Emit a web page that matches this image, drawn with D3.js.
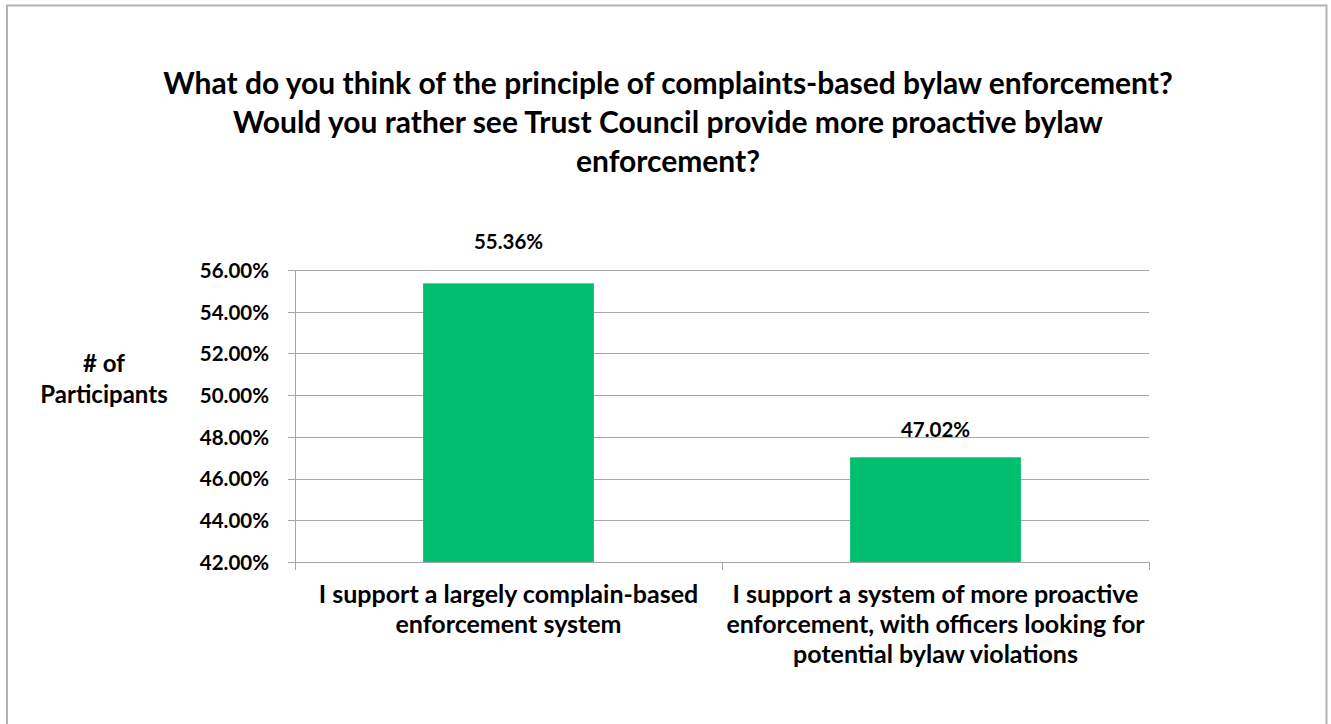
<!DOCTYPE html>
<html>
<head>
<meta charset="utf-8">
<script src="https://cdn.jsdelivr.net/npm/d3@7"></script>
<style>
  body { margin: 0; background: #fff; }
  text { font-family: Lato, "Open Sans", sans-serif; font-weight: 700; fill: #000; }
</style>
</head>
<body>
<script>
// chart data
const titleLines = [
  "What do you think of the principle of complaints-based bylaw enforcement?",
  "Would you rather see Trust Council provide more proactive bylaw",
  "enforcement?"
];
const yLabelLines = ["# of", "Participants"];
const categories = [
  "I support a largely complain-based enforcement system",
  "I support a system of more proactive enforcement, with officers looking for potential bylaw violations"
];
const categoryLines = [
  ["I support a largely complain-based", "enforcement system"],
  ["I support a system of more proactive", "enforcement, with officers looking for", "potential bylaw violations"]
];
const values = [55.36, 47.02];
const yTicks = [42, 44, 46, 48, 50, 52, 54, 56];

const w = 1331, h = 724;
const margin = { left: 295, right: 182, top: 270, bottom: 162 };
const gridColor = "#a6a6a6";

let svg = d3.select("body").append("svg")
  .attr("width", w)
  .attr("height", h);

// outer frame
svg.append("rect")
  .attr("x", 7).attr("y", 5.5)
  .attr("width", 1319.5).attr("height", 740)
  .attr("fill", "none")
  .attr("stroke", "#b3b3b3")
  .attr("stroke-width", 2);

// title
svg.append("text")
  .attr("text-anchor", "middle")
  .style("font-size", "30px")
  .selectAll("tspan")
  .data(titleLines)
  .enter()
  .append("tspan")
  .attr("x", 668)
  .attr("y", (d, i) => 94 + i * 39)
  .text(d => d);

let x = d3.scaleBand()
  .domain(categories)
  .range([margin.left, w - margin.right])
  .paddingInner(0.6)
  .paddingOuter(0.3);

let y = d3.scaleLinear()
  .domain([d3.min(yTicks), d3.max(yTicks)])
  .range([h - margin.bottom, margin.top]);

// gridlines + y labels
let yAxis = d3.axisLeft(y)
  .tickValues(yTicks)
  .tickSize(-(w - margin.right - margin.left) - 7)
  .tickPadding(19)
  .tickFormat(d => d.toFixed(2) + "%");

let gy = svg.append("g")
  .attr("transform", "translate(" + (margin.left - 7) + ",0)")
  .call(yAxis);
gy.select(".domain").remove();
gy.selectAll(".tick line")
  .attr("stroke", gridColor)
  .attr("shape-rendering", "crispEdges");
gy.selectAll(".tick text")
  .style("font-size", "20.5px")
  .attr("dy", "0.36em")
  .attr("font-family", null);

// y axis line
svg.append("line")
  .attr("x1", margin.left).attr("x2", margin.left)
  .attr("y1", margin.top).attr("y2", h - margin.bottom)
  .attr("stroke", gridColor)
  .attr("shape-rendering", "crispEdges");

// x axis line + ticks between categories
const base = h - margin.bottom;
svg.append("line")
  .attr("x1", margin.left).attr("x2", w - margin.right)
  .attr("y1", base).attr("y2", base)
  .attr("stroke", gridColor)
  .attr("shape-rendering", "crispEdges");

const bandStep = (w - margin.right - margin.left) / categories.length;
svg.selectAll(".xtick")
  .data(d3.range(categories.length + 1))
  .enter()
  .append("line")
  .attr("class", "xtick")
  .attr("x1", d => margin.left + d * bandStep)
  .attr("x2", d => margin.left + d * bandStep)
  .attr("y1", base).attr("y2", base + 8)
  .attr("stroke", gridColor)
  .attr("shape-rendering", "crispEdges");

// bars
svg.selectAll(".bar")
  .data(values)
  .enter()
  .append("rect")
  .attr("class", "bar")
  .attr("x", (d, i) => x(categories[i]))
  .attr("width", x.bandwidth())
  .attr("y", d => y(d))
  .attr("height", d => base - y(d))
  .attr("fill", "#00bf6f");

// value labels, pushed above the plot top when they would hit it
const yTop = y(d3.max(yTicks));
svg.selectAll(".vlabel")
  .data(values)
  .enter()
  .append("text")
  .attr("class", "vlabel")
  .attr("text-anchor", "middle")
  .style("font-size", "20.5px")
  .attr("x", (d, i) => x(categories[i]) + x.bandwidth() / 2)
  .attr("y", d => (y(d) - 20 < yTop) ? yTop - 21 : y(d) - 20)
  .text(d => d.toFixed(2) + "%");

// category labels
categoryLines.forEach((lines, i) => {
  svg.append("text")
    .attr("text-anchor", "middle")
    .style("font-size", "25px")
    .selectAll("tspan")
    .data(lines)
    .enter()
    .append("tspan")
    .attr("x", x(categories[i]) + x.bandwidth() / 2)
    .attr("y", (d, j) => 603 + j * 30)
    .text(d => d);
});

// y axis title
svg.append("text")
  .attr("text-anchor", "middle")
  .style("font-size", "24px")
  .selectAll("tspan")
  .data(yLabelLines)
  .enter()
  .append("tspan")
  .attr("x", 104)
  .attr("y", (d, i) => 372 + i * 31)
  .text(d => d);
</script>
</body>
</html>
